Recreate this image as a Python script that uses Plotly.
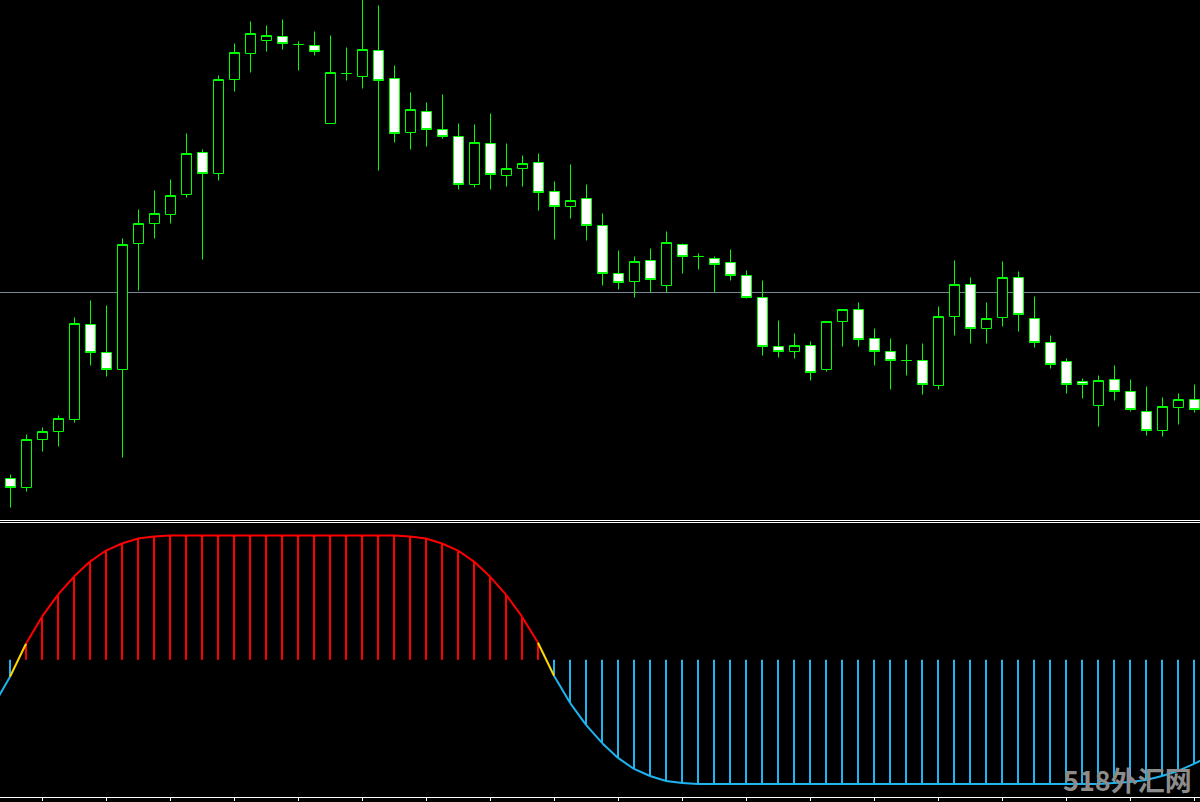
import plotly.graph_objects as go

# ---------------- data (price in points; chart shows no price scale) ----------------
bars = list(range(75))

open_ = [42, 33, 81, 89, 101, 196, 168, 151, 277, 297,
         306, 326, 368, 347, 441, 467, 480, 484, 476, 475,
         397, 447, 444, 470, 442, 388, 409, 391, 384, 336,
         377, 345, 352, 358, 329, 314, 322, 295, 247, 239,
         260, 235, 276, 264, 262, 258, 245, 223, 174, 169,
         175, 151, 199, 211, 182, 169, 160, 160, 135, 204,
         236, 192, 203, 243, 202, 178, 159, 139, 115, 141,
         129, 109, 90, 113, 121]

high = [46, 86, 93, 105, 203, 220, 215, 282, 311, 330,
        341, 387, 371, 445, 477, 499, 495, 501, 479, 489,
        485, 473, 528, 515, 455, 428, 418, 426, 397, 396,
        407, 377, 365, 367, 339, 356, 336, 307, 270, 264,
        272, 289, 277, 267, 264, 271, 250, 240, 200, 187,
        179, 199, 211, 218, 192, 182, 176, 177, 214, 260,
        243, 218, 259, 249, 224, 185, 162, 142, 145, 155,
        141, 134, 123, 127, 136]

low = [13, 29, 69, 74, 98, 155, 144, 63, 230, 282,
       297, 323, 261, 340, 429, 448, 469, 471, 450, 465,
       397, 440, 432, 350, 378, 371, 374, 382, 331, 333,
       331, 334, 334, 310, 281, 302, 280, 235, 231, 223,
       228, 228, 247, 251, 228, 240, 222, 165, 163, 162,
       140, 149, 174, 174, 155, 131, 145, 126, 131, 185,
       177, 177, 194, 189, 173, 152, 127, 122, 94, 120,
       109, 85, 84, 96, 108]

close = [33, 81, 89, 102, 197, 168, 151, 276, 297, 307,
         325, 367, 347, 441, 468, 487, 485, 477, 476, 469,
         448, 447, 471, 440, 387, 411, 391, 384, 336, 378,
         346, 352, 357, 328, 314, 320, 295, 247, 238, 259,
         241, 278, 264, 264, 256, 245, 223, 174, 169, 175,
         148, 199, 211, 181, 169, 160, 160, 136, 204, 236,
         192, 202, 243, 206, 178, 156, 136, 136, 140, 129,
         111, 90, 114, 121, 111]

hline_level = 228

# oscillator (bars -1 .. 75; the first and last lie just outside the window)
trend_idx = list(range(-1, 76))
trend = [-45, -17,
         16, 43, 65, 83, 98, 109, 116, 121, 123, 124,
         124, 124, 124, 124, 124, 124, 124, 124, 124, 124,
         124, 124, 124, 124, 123, 121, 116, 109, 98, 83,
         65, 43, 17, -16, -43, -65, -83, -98, -109, -116,
         -121, -123, -124, -124, -124, -124, -124, -124, -124, -124,
         -124, -124, -124, -124, -124, -124, -124, -124, -124, -124,
         -124, -124, -124, -124, -124, -124, -124, -124, -123, -122,
         -120, -116, -111, -104, -96]

tick_idx = bars[2::4]
watermark = "518外汇网"

GREEN = "#00FF00"
RED = "#FF0000"
BLUE = "#1EB4F0"
YELLOW = "#FFD700"

fig = go.Figure()

fig.add_trace(go.Candlestick(
    x=bars, open=open_, high=high, low=low, close=close,
    increasing=dict(line=dict(color=GREEN, width=1), fillcolor="#000000"),
    decreasing=dict(line=dict(color=GREEN, width=1), fillcolor="#FFFFFF"),
    whiskerwidth=0, xaxis="x", yaxis="y", showlegend=False, hoverinfo="skip",
))

# histogram sticks
for col in (RED, BLUE):
    xs, ys = [], []
    for i, v in zip(trend_idx, trend):
        if i < 0:
            continue
        if (v > 0 and col == RED) or (v < 0 and col == BLUE):
            xs += [i, i, None]
            ys += [0, v, None]
    fig.add_trace(go.Scatter(x=xs, y=ys, mode="lines", line=dict(color=col, width=2),
                             xaxis="x2", yaxis="y2", showlegend=False, hoverinfo="skip"))

# coloured line
segs = {RED: ([], []), BLUE: ([], []), YELLOW: ([], [])}
for k in range(len(trend) - 1):
    a, b = trend[k], trend[k + 1]
    if a > 0 and b > 0:
        c = RED
    elif a < 0 and b < 0:
        c = BLUE
    else:
        c = YELLOW
    xs, ys = segs[c]
    xs += [trend_idx[k], trend_idx[k + 1], None]
    ys += [a, b, None]
for c, (xs, ys) in segs.items():
    fig.add_trace(go.Scatter(x=xs, y=ys, mode="lines", line=dict(color=c, width=2),
                             xaxis="x2", yaxis="y2", showlegend=False, hoverinfo="skip"))

xr_top = [-10.5 / 16, 75 - 10.5 / 16]
xr_bot = [-10 / 16, 75 - 10 / 16]
H = 802
fig.update_layout(
    width=1200, height=H,
    margin=dict(l=0, r=0, t=0, b=0),
    paper_bgcolor="#000000", plot_bgcolor="#000000",
    showlegend=False,
    boxgap=0.375, boxgroupgap=0,
    xaxis=dict(domain=[0, 1], range=xr_top, anchor="y", showgrid=False, zeroline=False,
               showticklabels=False, rangeslider=dict(visible=False),
               showline=True, linecolor="#FFFFFF", linewidth=1, ticks=""),
    yaxis=dict(domain=[(H - 520) / H, 1], range=[0.5, 520.5], showgrid=False, zeroline=False,
               showticklabels=False, ticks=""),
    xaxis2=dict(domain=[0, 1], range=xr_bot, anchor="y2", showgrid=False,
                zeroline=False, showticklabels=False, showline=True, mirror=True,
                linecolor="#FFFFFF", linewidth=1, ticks="outside", ticklen=3,
                tickcolor="#FFFFFF", tickwidth=1, tickmode="array", tickvals=tick_idx),
    yaxis2=dict(domain=[(H - 797) / H, (H - 522.5) / H], range=[-137, 137], showgrid=False,
                zeroline=False, showticklabels=False, ticks=""),
    shapes=[dict(type="line", xref="paper", x0=0, x1=1, yref="y", y0=hline_level, y1=hline_level,
                 line=dict(color="#778899", width=1), layer="below")],
    annotations=[dict(text=watermark, xref="paper", yref="paper", x=1194 / 1200, y=(H - 779) / H,
                      xanchor="right", yanchor="middle", showarrow=False,
                      font=dict(family="Noto Sans CJK SC", size=27, color="#8C8C8C", weight="bold"))],
)

fig.write_html("out.html", config={"displayModeBar": False},
               post_script="document.body.style.margin='0px';document.body.style.padding='0px';")
